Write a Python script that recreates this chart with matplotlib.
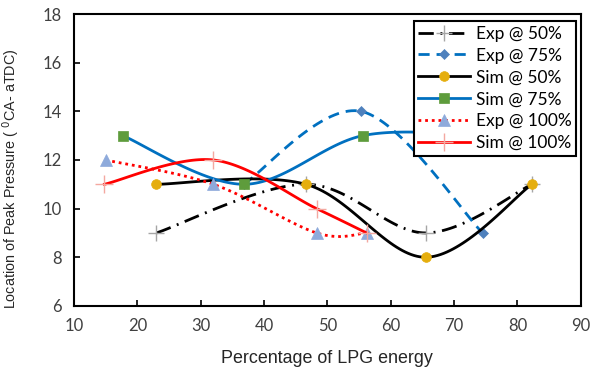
import numpy as np
import matplotlib
matplotlib.use("Agg")
import matplotlib.pyplot as plt

plt.rcParams['font.family'] = ['Lato', 'DejaVu Sans']

# data
exp50_x = [23, 46.6, 65.5, 82.3]
exp50_y = [9, 11, 9, 11]
exp75_x = [36.8, 55.3, 74.5]
exp75_y = [11, 14, 9]
sim50_x = [23, 46.6, 65.5, 82.3]
sim50_y = [11, 11, 8, 11]
sim75_x = [17.7, 36.8, 55.6, 74.5]
sim75_y = [13, 11, 13, 13]
exp100_x = [15, 32, 48.3, 56.2]
exp100_y = [12, 11, 9, 9]
sim100_x = [14.8, 32, 48.3, 56.2]
sim100_y = [11, 12, 10, 9]


def smooth(x, y, n=40):
    # Excel-like smoothed line (Catmull-Rom bezier through the points)
    x = np.asarray(x, float)
    y = np.asarray(y, float)
    if len(x) < 3:
        return x, y
    px = np.concatenate([[x[0]], x, [x[-1]]])
    py = np.concatenate([[y[0]], y, [y[-1]]])
    t = np.linspace(0, 1, n)
    xs, ys = [], []
    for i in range(1, len(px) - 2):
        p0x, p1x, p2x, p3x = px[i - 1], px[i], px[i + 1], px[i + 2]
        p0y, p1y, p2y, p3y = py[i - 1], py[i], py[i + 1], py[i + 2]
        c1x = p1x + (p2x - p0x) / 6
        c1y = p1y + (p2y - p0y) / 6
        c2x = p2x - (p3x - p1x) / 6
        c2y = p2y - (p3y - p1y) / 6
        bx = (1-t)**3*p1x + 3*(1-t)**2*t*c1x + 3*(1-t)*t**2*c2x + t**3*p2x
        by = (1-t)**3*p1y + 3*(1-t)**2*t*c1y + 3*(1-t)*t**2*c2y + t**3*p2y
        xs.append(bx)
        ys.append(by)
    return np.concatenate(xs), np.concatenate(ys)


fig = plt.figure(figsize=(5.92, 3.69), dpi=100)
ax = fig.add_axes([0.125, 0.171, 0.856, 0.791])

series = [
    (exp50_x, exp50_y, 'Exp @ 50%', 'black', (0, (5.5, 2.4, 0.7, 2.4)), '+', '#a6a6a6', 11),
    (exp75_x, exp75_y, 'Exp @ 75%', '#0070c0', (0, (4, 2.5)), 'D', '#4f81bd', 5),
    (sim50_x, sim50_y, 'Sim @ 50%', 'black', '-', 'o', '#e5ae0e', 7),
    (sim75_x, sim75_y, 'Sim @ 75%', '#0070c0', '-', 's', '#5e9c3c', 7),
    (exp100_x, exp100_y, 'Exp @ 100%', '#ff0000', (0, (1, 1.4)), '^', '#8eaadb', 9),
    (sim100_x, sim100_y, 'Sim @ 100%', '#ff0000', '-', '+', '#f4a8a0', 13),
]

handles = []
for i, (x, y, lab, col, ls, mk, mc, ms) in enumerate(series):
    sx, sy = smooth(x, y)
    ax.plot(sx, sy, color=col, linestyle=ls, lw=2, zorder=2 + i)
    ax.plot(x, y, linestyle='none', marker=mk, color=mc, markersize=ms,
            markeredgewidth=1 if mk == '+' else 0.5, zorder=2 + i)
    h, = ax.plot([], [], color=col, linestyle=ls, lw=2, marker=mk,
                 markerfacecolor=mc, markeredgecolor=mc, markersize=ms,
                 markeredgewidth=1 if mk == '+' else 0.5, label=lab)
    handles.append(h)

ax.set_xlim(10, 90)
ax.set_ylim(6, 18)
ax.set_xticks(range(10, 91, 10))
ax.set_yticks(range(6, 19, 2))
ax.tick_params(direction='in', length=4, width=1.2, labelsize=12,
               labelcolor='#404040', pad=9)
for s in ax.spines.values():
    s.set_linewidth(1.5)
    s.set_color('black')

ax.set_xlabel('Percentage of LPG energy', fontsize=12.85, color='#262626',
              family=['Liberation Sans', 'DejaVu Sans'], labelpad=11)
ax.set_ylabel(r'Location of Peak Pressure ( $^{0}$CA- aTDC)', fontsize=10.4,
              color='#262626', family=['Liberation Sans', 'DejaVu Sans'])
ax.yaxis.set_label_coords(-0.103, 0.435)

leg = ax.legend(handles=handles, loc='upper right', bbox_to_anchor=(0.99, 0.975),
                fontsize=12.5, numpoints=1, handlelength=3.0, handletextpad=0.3,
                labelspacing=0.34, borderpad=0.25, fancybox=False, framealpha=1,
                borderaxespad=0)
leg.get_frame().set_edgecolor('black')
leg.get_frame().set_linewidth(1.5)

fig.savefig('out.png', dpi=100)
